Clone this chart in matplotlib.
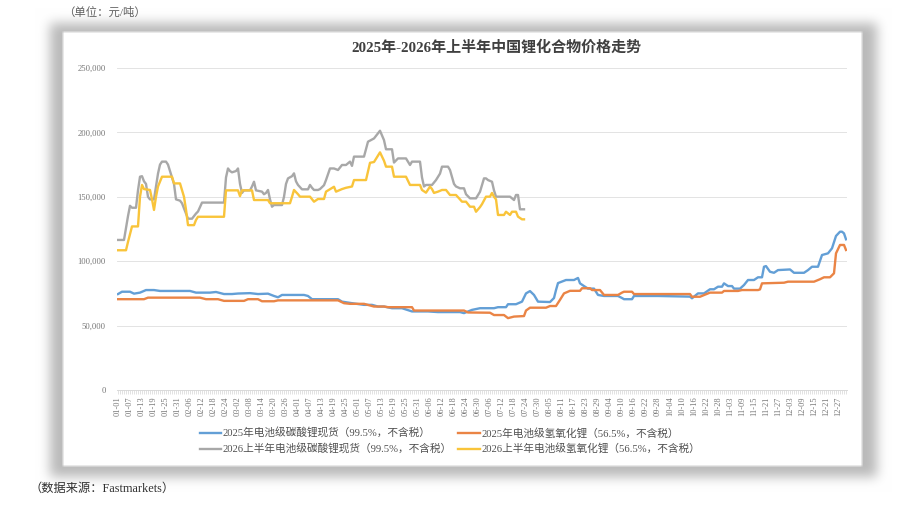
import numpy as np
import matplotlib
matplotlib.use("Agg")
import matplotlib.pyplot as plt

plt.rcParams['font.family'] = ['Liberation Serif', 'Noto Sans CJK SC', 'DejaVu Sans']

# ---------------- data ----------------
tick_labels = ["01-01", "01-07", "01-13", "01-19", "01-25", "01-31", "02-06", "02-12", "02-18", "02-24",
               "03-02", "03-08", "03-14", "03-20", "03-26", "04-01", "04-07", "04-13", "04-19", "04-25",
               "05-01", "05-07", "05-13", "05-19", "05-25", "05-31", "06-06", "06-12", "06-18", "06-24",
               "06-30", "07-06", "07-12", "07-18", "07-24", "07-30", "08-05", "08-11", "08-17", "08-23",
               "08-29", "09-04", "09-10", "09-16", "09-22", "09-28", "10-04", "10-10", "10-16", "10-22",
               "10-28", "11-03", "11-09", "11-15", "11-21", "11-27", "12-03", "12-09", "12-15", "12-21",
               "12-27"]
tick_days = list(range(0, 361, 6))
yticks = [0, 50000, 100000, 150000, 200000, 250000]

# 2025 battery-grade lithium carbonate (day of year, price)
carb25_days = [0, 2, 6, 8, 11, 14, 18, 21, 36, 39, 46, 49, 53, 57, 60, 66, 70, 75, 78, 80, 82, 93, 95, 97,
               110, 112, 117, 123, 127, 130, 133, 137, 142, 147, 155, 160, 171, 173, 177, 181, 188, 190,
               194, 195, 199, 202, 204, 206, 208, 210, 216, 218, 219, 220, 224, 228, 230, 231, 233, 235,
               238, 240, 243, 250, 252, 253, 257, 258, 270, 286, 287, 290, 293, 296, 298, 300, 302, 303,
               305, 307, 308, 311, 313, 315, 318, 320, 322, 323, 324, 326, 328, 330, 336, 338, 343, 345,
               347, 350, 352, 355, 357, 359, 361, 362, 363, 364]
carb25_vals = [74500, 76300, 76300, 74800, 75600, 77600, 77600, 76900, 76900, 75600, 75600, 76100, 74500,
               74500, 74900, 75200, 74500, 74800, 73000, 72000, 73800, 73800, 73000, 70500, 70500, 68600,
               67400, 66100, 66100, 64800, 64800, 63500, 63500, 61000, 61000, 60500, 60500, 59700, 62200,
               63500, 63500, 64300, 64300, 66600, 66600, 68600, 75000, 76800, 73800, 68600, 68300, 71400,
               77600, 83000, 85400, 85400, 87000, 82800, 80700, 78700, 78700, 73800, 73000, 73000, 71400,
               70500, 70500, 73000, 73000, 72500, 71200, 75000, 75000, 78200, 78200, 80200, 80200, 82800,
               80700, 80700, 78700, 78700, 81500, 85400, 85400, 87500, 87500, 95700, 96200, 91800, 91000,
               93100, 93600, 91000, 91000, 93100, 95700, 95700, 104800, 106100, 110000, 119600, 122900,
               122900, 121600, 117000]

# 2025 battery-grade lithium hydroxide
hyd25_days = [0, 13, 15, 41, 44, 50, 53, 63, 65, 70, 72, 78, 80, 110, 113, 116, 123, 128, 133, 135, 147,
              148, 173, 175, 186, 188, 193, 195, 198, 203, 204, 206, 214, 216, 219, 221, 223, 226, 231,
              232, 236, 237, 241, 243, 250, 252, 253, 257, 258, 286, 287, 291, 293, 296, 302, 303, 310,
              312, 320, 321, 322, 333, 335, 348, 351, 353, 356, 358, 359, 361, 363, 364]
hyd25_vals = [70500, 70500, 71700, 71700, 70500, 70500, 69200, 69200, 70500, 70500, 68900, 68900, 69600,
              69600, 67400, 66900, 66900, 64800, 64800, 64300, 64300, 61700, 61700, 60200, 60000, 58200,
              58200, 55800, 57000, 57400, 61700, 63900, 63900, 65200, 65200, 70000, 75000, 77000, 77000,
              79000, 79000, 77600, 77600, 73800, 73800, 75600, 76300, 76300, 74500, 74500, 72400, 72400,
              73700, 75600, 75600, 76900, 76900, 77600, 77600, 78100, 82800, 83300, 84100, 84100, 86000,
              87500, 87500, 90600, 106100, 112600, 112600, 108700]

# 2026 H1 battery-grade lithium carbonate
carb26_days = [0, 3, 5, 6, 7, 9, 10, 11, 12, 13, 14, 15, 16, 18, 19, 20, 21, 22, 24, 25, 26, 28, 29, 31,
               32, 33, 34, 35, 37, 38, 39, 40, 41, 42, 53, 54, 55, 56, 57, 59, 60, 61, 62, 63, 66, 67, 68,
               69, 72, 73, 74, 75, 76, 77, 78, 82, 83, 84, 85, 87, 88, 89, 90, 92, 95, 96, 97, 98, 100,
               101, 103, 104, 106, 108, 110, 112, 114, 116, 117, 118, 123, 124, 125, 128, 131, 133, 134,
               137, 138, 140, 144, 146, 147, 151, 152, 153, 154, 157, 159, 161, 162, 165, 166, 168, 169,
               171, 173, 174, 176, 179, 181, 183, 184, 185, 187, 188, 189, 196, 198, 199, 200, 201, 203]
carb26_vals = [116500, 116500, 135000, 143000, 141500, 141500, 155000, 165600, 166000, 162000, 160000,
               150000, 148000, 148000, 158000, 168000, 175000, 177300, 177300, 175000, 170000, 160000,
               148000, 147000, 145000, 141000, 137000, 133000, 133000, 135000, 137000, 138600, 142000,
               145500, 145500, 165000, 172000, 170000, 169000, 170000, 172000, 160000, 153000, 155000,
               155000, 158000, 161700, 155000, 154000, 152000, 153000, 155300, 148000, 142300, 143600,
               143600, 150000, 160000, 164300, 166000, 168200, 162000, 159200, 155800, 155800, 159200,
               157000, 155300, 155300, 156000, 159000, 163000, 172000, 172000, 170800, 174700, 174700,
               177300, 174000, 181200, 181200, 187000, 192800, 195300, 201300, 194000, 186900, 186900,
               176600, 179800, 179800, 174700, 177300, 177300, 165000, 158000, 159200, 159200, 163000,
               168000, 173400, 173400, 170800, 160000, 158000, 156600, 156600, 152000, 148800, 148800,
               153900, 164300, 164300, 163000, 161700, 155000, 150100, 150100, 147500, 151400, 151400,
               140300, 140300]

# 2026 H1 battery-grade lithium hydroxide
hyd26_days = [0, 4, 5, 7, 10, 11, 12, 13, 16, 17, 18, 19, 20, 22, 27, 28, 31, 33, 34, 35, 38, 39, 40, 53,
              54, 60, 61, 62, 67, 68, 75, 76, 86, 87, 88, 90, 91, 96, 98, 100, 103, 104, 108, 109, 112,
              114, 117, 118, 124, 126, 128, 131, 133, 134, 137, 138, 144, 146, 151, 152, 154, 156, 157,
              158, 160, 162, 164, 166, 169, 171, 172, 174, 176, 178, 179, 181, 182, 184, 186, 187, 188,
              189, 190, 193, 194, 196, 197, 199, 200, 202, 203]
hyd26_vals = [108500, 108500, 115000, 127000, 127000, 150000, 159200, 156000, 155300, 148000, 139800,
              150000, 158000, 165600, 165600, 160400, 160400, 150000, 140000, 128000, 128000, 132000,
              134500, 134500, 155000, 155000, 150500, 155000, 155000, 147500, 147500, 145000, 145000,
              150000, 155300, 152000, 150100, 150100, 146200, 148300, 148300, 154000, 157800, 154000,
              156000, 157000, 158000, 163000, 163000, 176400, 177000, 184500, 178000, 173400, 173400,
              165600, 165600, 159200, 159200, 155300, 153200, 157900, 156000, 153000, 154000, 155300,
              155300, 151400, 151400, 148000, 146200, 146200, 142300, 142300, 138400, 142000, 144300,
              150100, 150100, 153000, 150000, 148000, 135900, 135900, 138400, 135900, 138400, 138400,
              134600, 132500, 132500]

series_labels = ["2025年电池级碳酸锂现货（99.5%，不含税）",
                 "2026上半年电池级碳酸锂现货（99.5%，不含税）",
                 "2025年电池级氢氧化锂（56.5%，不含税）",
                 "2026上半年电池级氢氧化锂（56.5%，不含税）"]
title = "2025年-2026年上半年中国锂化合物价格走势"

# ---------------- figure ----------------
W, H = 912, 508
fig = plt.figure(figsize=(W / 100, H / 100), dpi=100)
fig.patch.set_facecolor("white")

# soft blurred shadow frame as background image
yy, xx = np.mgrid[0:H, 0:W]
mask = ((xx >= 50) & (xx <= 876) & (yy >= 23) & (yy <= 476)).astype(float)
k = np.ones(11) / 11.0
for _ in range(3):
    mask = np.apply_along_axis(lambda r: np.convolve(r, k, mode="same"), 1, mask)
    mask = np.apply_along_axis(lambda c: np.convolve(c, k, mode="same"), 0, mask)
shade = 1.0 - 0.27 * mask
panel_mask = ((xx >= 63) & (xx <= 861) & (yy >= 32) & (yy <= 465)).astype(float)
pm = panel_mask.copy()
k2 = np.ones(3) / 3.0
pm = np.apply_along_axis(lambda r: np.convolve(r, k2, mode="same"), 1, pm)
pm = np.apply_along_axis(lambda c: np.convolve(c, k2, mode="same"), 0, pm)
shade = shade * (1 - pm) + 1.0 * pm
img = np.dstack([shade, shade, shade])
bg = fig.add_axes([0, 0, 1, 1], zorder=0)
bg.imshow(np.clip(img, 0, 1), extent=[0, W, H, 0], aspect="auto", interpolation="bilinear")
bg.set_xlim(0, W)
bg.set_ylim(H, 0)
bg.axis("off")

def fx(px):
    return px / W

def fy(py):
    return 1 - py / H

ax = fig.add_axes([fx(117), fy(390), fx(847) - fx(117), fy(68) - fy(390)], zorder=2)
ax.set_facecolor("none")

colors = {"blue": "#639FD6", "orange": "#EA8445", "gray": "#A8A8A8", "yellow": "#F9C43A"}
lw = 1.7
l1, = ax.plot(carb25_days, carb25_vals, color=colors["blue"], lw=lw, solid_joinstyle="round", zorder=3)
l3, = ax.plot(hyd25_days, hyd25_vals, color=colors["orange"], lw=lw, solid_joinstyle="round", zorder=3)
l2, = ax.plot(carb26_days, carb26_vals, color=colors["gray"], lw=lw, solid_joinstyle="round", zorder=4)
l4, = ax.plot(hyd26_days, hyd26_vals, color=colors["yellow"], lw=lw, solid_joinstyle="round", zorder=4)

ax.set_xlim(-0.5, 364.5)
ax.set_ylim(0, 250000)
ax.set_yticks(yticks)
ax.set_yticklabels([f"{v:,}" for v in yticks])
ax.set_xticks(tick_days)
ax.set_xticklabels(tick_labels, rotation=90)
ax.set_xticks(range(0, 365), minor=True)
ax.tick_params(axis="x", which="both", length=3, width=0.5, color="#d6d6d6", labelsize=6.0,
               labelcolor="#777777", pad=1.5)
ax.tick_params(axis="y", length=0, labelsize=6.2, labelcolor="#777777", pad=8)
ax.grid(axis="y", color="#e3e3e3", lw=0.7)
ax.set_axisbelow(True)
for s in ["top", "right", "left"]:
    ax.spines[s].set_visible(False)
ax.spines["bottom"].set_color("#d9d9d9")
ax.spines["bottom"].set_linewidth(0.7)

fig.text(fx(496), fy(47), title, ha="center", va="center", fontsize=10.8, fontweight="bold",
         color="#404040", zorder=5)
fig.text(fx(63), fy(12), "（单位：元/吨）", ha="left", va="center", fontsize=8.2, color="#606060")
fig.text(fx(30), fy(489), "（数据来源：Fastmarkets）", ha="left", va="center", fontsize=8.8, color="#303030")

leg = fig.legend([l1, l2, l3, l4], series_labels, ncol=2, loc="center",
                 bbox_to_anchor=(fx(450), fy(441)), frameon=False, fontsize=7.7,
                 handlelength=2.0, handletextpad=0.15, columnspacing=0.6, labelspacing=0.45,
                 labelcolor="#505050")
leg.set_zorder(5)

fig.savefig("out.png", dpi=100, facecolor="white")
